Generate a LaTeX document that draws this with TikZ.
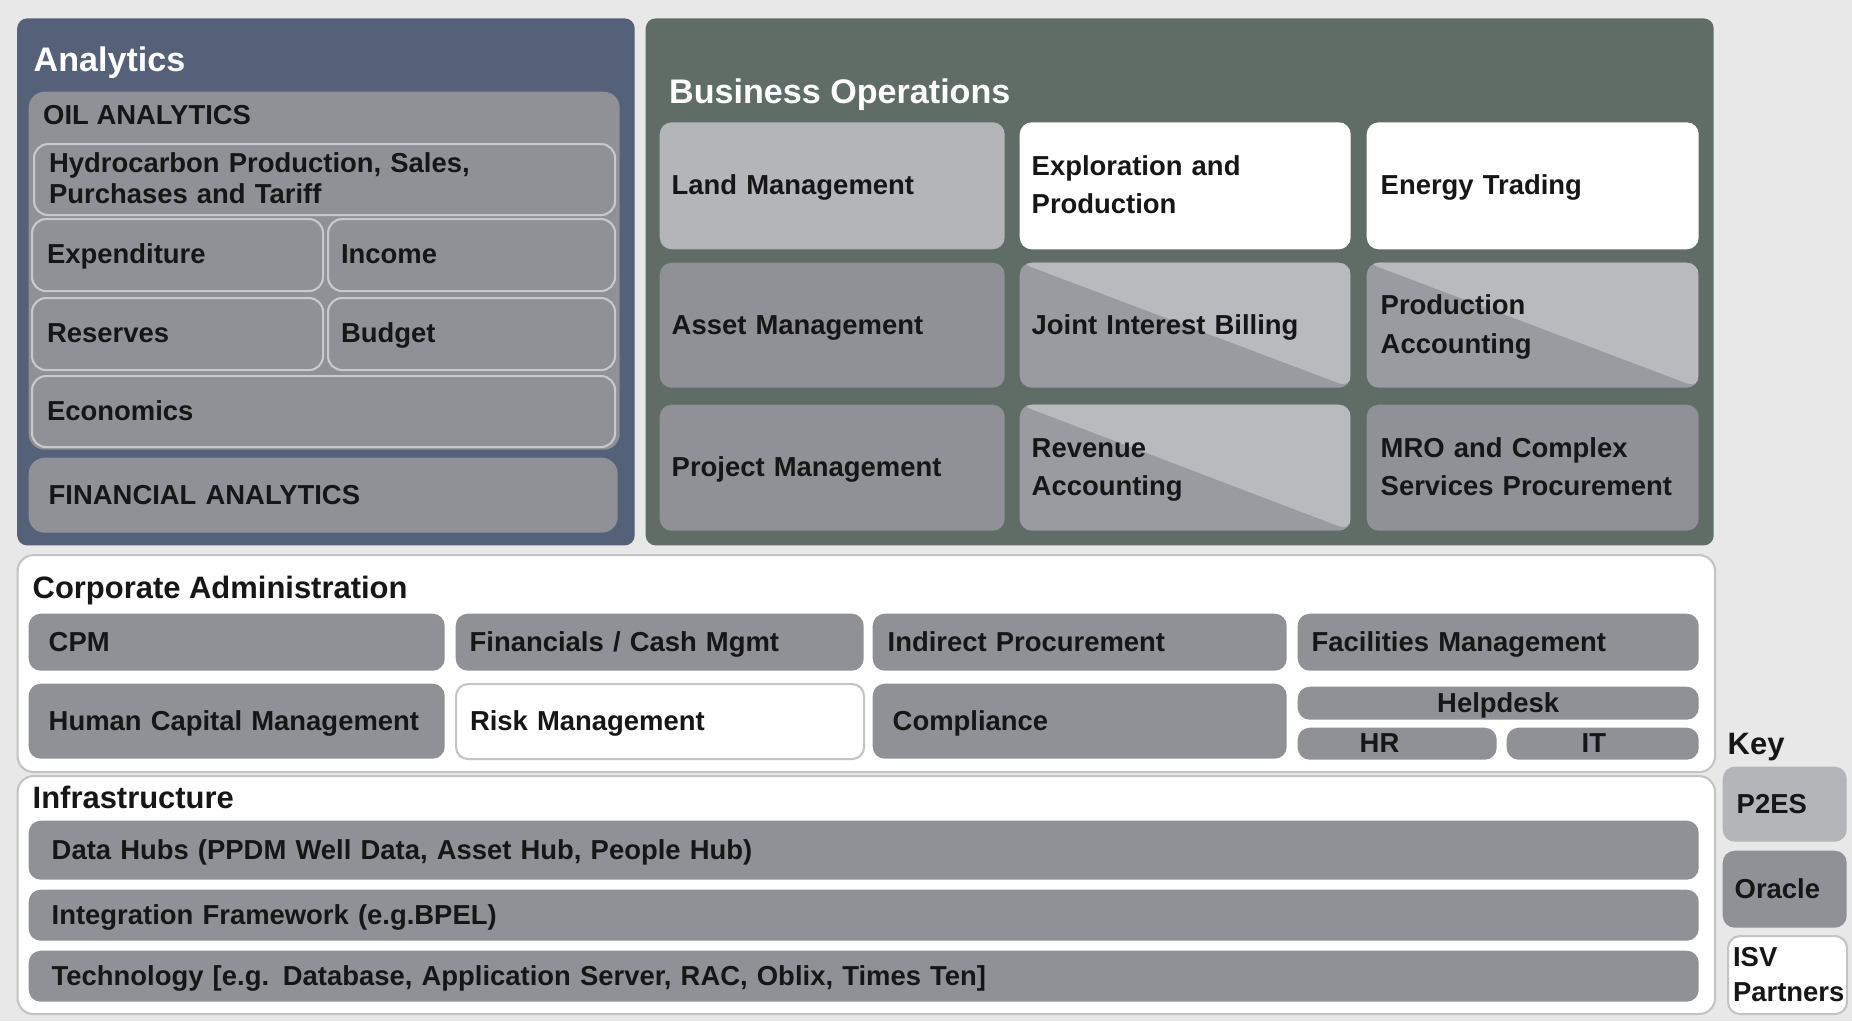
\documentclass[tikz,border=0pt]{standalone}
\usepackage{fontspec}
\setmainfont{Liberation Sans}
\definecolor{bgc}{HTML}{E8E8E8}
\definecolor{anac}{HTML}{556079}
\definecolor{busc}{HTML}{5F6D66}
\definecolor{midc}{HTML}{909196}
\definecolor{litc}{HTML}{B4B5B9}
\definecolor{dgc}{HTML}{9A9BA0}
\definecolor{dlc}{HTML}{B9BABE}
\definecolor{edgec}{HTML}{C8C9CC}
\definecolor{framec}{HTML}{C4C4C4}
\definecolor{inkc}{HTML}{161616}

\newlength{\pxu}\setlength{\pxu}{0.01cm}
\newcommand{\tstrut}{\rule[-2pt]{0pt}{9pt}}
\tikzset{tpad/.store in=\tilepad, tpad=12}
% \tilebox[style]{name}{x}{y}{width}{height}{text}, all in pixels
\newcommand{\tilebox}[7][]{%
  \node[tile,#1,minimum width={#5*\pxu},minimum height={#6*\pxu},
    text width={(#5-2*\tilepad)*\pxu}] (#2) at (#3,#4) {#7};}

\begin{document}
\begin{tikzpicture}[
  x=0.01cm, y=-0.01cm,
  tile/.style = {anchor=north west, rounded corners=0.12cm, inner xsep={\tilepad*\pxu},
    inner ysep=0pt, align=left, text=inkc, font=\bfseries\fontsize{7.8}{11}\selectfont,
    execute at begin node=\tstrut, execute at end node=\tstrut},
  grey/.style = {tile, fill=midc},
  pale/.style = {tile, fill=litc},
  blank/.style = {tile, fill=white},
  framed/.style = {tile, fill=white, draw=framec, line width=0.6pt},
  board/.style = {tile, fill=white, draw=framec, line width=0.6pt, rounded corners=0.16cm},
  sub/.style = {grey, draw=edgec, line width=0.6pt, rounded corners=0.14cm},
  split/.style = {tile, fill=dgc, path picture={
    \fill[dlc] (path picture bounding box.north west) -- (path picture bounding box.north east)
      -- (path picture bounding box.south east) -- cycle;}},
  panel/.style = {tile, rounded corners=0.1cm},
  ptitle/.style = {anchor=west, inner sep=0pt, text=white, font=\bfseries\fontsize{9.7}{11}\selectfont},
  btitle/.style = {ptitle, text=inkc, font=\bfseries\fontsize{8.8}{11}\selectfont},
  mid/.style = {align=center}
]
  \fill[bgc] (0,0) rectangle (1852,1021);
  \useasboundingbox (0,0) rectangle (1852,1021);

  % analytics
  \tilebox[panel, fill=anac]{ana}{16.5}{17.7}{617.5}{527}{}
  \node[ptitle] (anat) at (33,63) {Analytics};
  \tilebox[grey, rounded corners=0.16cm]{oil}{28}{91}{591}{358}{}
  \node[btitle, font=\bfseries\fontsize{7.8}{11}\selectfont] (oilt) at (42.5,115) {OIL ANALYTICS};
  \tilebox[sub, tpad=15, execute at end node={}]{hyd}{33}{143}{581}{71}{Hydrocarbon Production, Sales,\\[-2.2pt]Purchases and Tariff}
  \tilebox[sub, tpad=15]{expd}{31}{218}{291}{72}{Expenditure}
  \tilebox[sub, tpad=13]{inc}{327}{218}{287}{72}{Income}
  \tilebox[sub, tpad=15]{res}{31}{297}{291}{72}{Reserves}
  \tilebox[sub, tpad=13]{bud}{327}{297}{287}{72}{Budget}
  \tilebox[sub, tpad=15]{eco}{31}{375}{583}{71}{Economics}
  \tilebox[grey, tpad=20, rounded corners=0.16cm]{fin}{28}{457}{589}{75}{FINANCIAL ANALYTICS}

  % business operations
  \tilebox[panel, fill=busc]{bus}{645}{17.7}{1068}{527}{}
  \node[ptitle] (bust) at (668.5,95) {Business Operations};
  \tilebox[pale]{land}{659}{121.6}{345}{127}{Land Management}
  \tilebox[blank]{expl}{1019}{121.6}{331}{127}{Exploration and\\Production}
  \tilebox[blank, tpad=14]{trad}{1366}{121.6}{332}{127}{Energy Trading}
  \tilebox[grey]{asset}{659}{262}{345}{125}{Asset Management}
  \tilebox[split]{jib}{1019}{262}{331}{125}{Joint Interest Billing}
  \tilebox[split, tpad=14]{pacc}{1366}{262}{332}{125}{Production\\Accounting}
  \tilebox[grey]{proj}{659}{404}{345}{126}{Project Management}
  \tilebox[split]{racc}{1019}{404}{331}{126}{Revenue\\Accounting}
  \tilebox[grey, tpad=14]{mro}{1366}{404}{332}{126}{MRO and Complex\\Services Procurement}

  % corporate administration
  \tilebox[board]{corp}{16.5}{554}{1697.5}{217}{}
  \node[btitle] (corpt) at (32,590) {Corporate Administration};
  \tilebox[grey, tpad=20]{cpm}{28}{613}{416}{57}{CPM}
  \tilebox[grey, tpad=14]{fcm}{455}{613}{408}{57}{Financials / Cash Mgmt}
  \tilebox[grey, tpad=15]{ind}{872}{613}{414}{57}{Indirect Procurement}
  \tilebox[grey, tpad=14]{fac}{1297}{613}{401}{57}{Facilities Management}
  \tilebox[grey, tpad=20]{hcm}{28}{683}{416}{75}{Human Capital Management}
  \tilebox[framed, tpad=14]{risk}{455}{683}{408}{75}{Risk Management}
  \tilebox[grey, tpad=20]{comp}{872}{683}{414}{75}{Compliance}
  \tilebox[grey, mid]{help}{1297}{686}{401}{33}{Helpdesk}
  \tilebox[grey, tpad=62]{hr}{1297}{727}{199}{32}{HR}
  \tilebox[grey, tpad=75]{it}{1506}{727}{192}{32}{IT}

  % infrastructure
  \tilebox[board]{infra}{16.5}{775}{1697.5}{238}{}
  \node[btitle] (infrat) at (32,797) {Infrastructure};
  \tilebox[grey, tpad=23]{hubs}{28}{820}{1670}{59}{Data Hubs (PPDM Well Data, Asset Hub, People Hub)}
  \tilebox[grey, tpad=23]{intg}{28}{889}{1670}{51}{Integration Framework (e.g.BPEL)}
  \tilebox[grey, tpad=23]{tech}{28}{950}{1670}{51}{Technology [e.g. Database, Application Server, RAC, Oblix, Times Ten]}

  % key
  \node[btitle] (keyt) at (1727,747) {Key};
  \tilebox[pale, tpad=14]{p2es}{1722}{766}{124}{75}{P2ES}
  \tilebox[grey, tpad=12]{orcl}{1722}{850}{124}{77}{Oracle}
  \tilebox[framed, tpad=5, font=\bfseries\fontsize{7.8}{10}\selectfont]{isv}{1727}{935}{119}{78}{ISV\\Partners}
\end{tikzpicture}
\end{document}
